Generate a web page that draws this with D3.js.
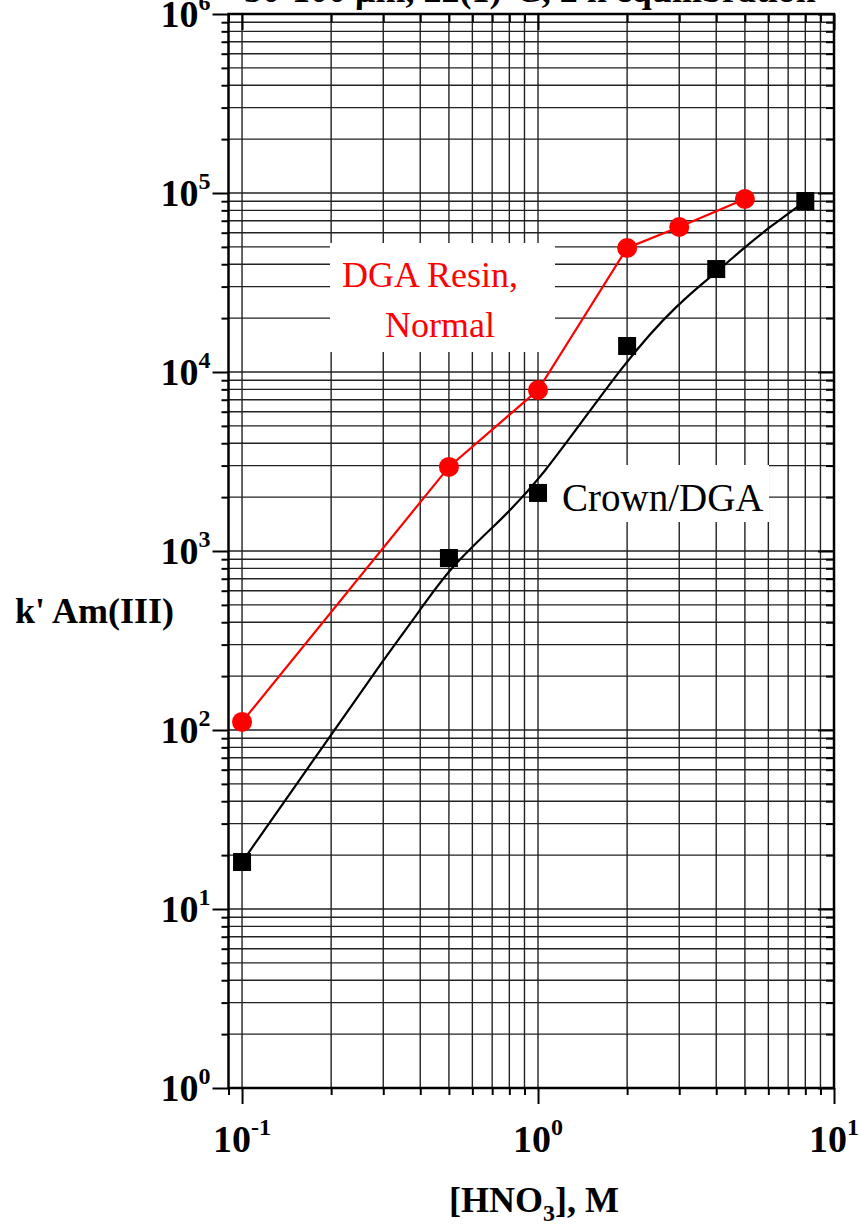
<!DOCTYPE html>
<html>
<head>
<meta charset="utf-8">
<script src="https://d3js.org/d3.v7.min.js"></script>
<style>
    body { margin: 0; background: #fff; }
    #chart-area { width: 860px; height: 1226px; }
    text { font-family: "Liberation Serif", "Times New Roman", serif; }
</style>
</head>
<body>
<div id="chart-area"></div>
<script>

// DGA Resin, Normal (measured points)
let resinHNO3 = [0.1, 0.5, 1, 2, 3, 5];
let resinK = [111, 2950, 7930, 49300, 64600, 92600];

// Crown/DGA (measured points)
let crownHNO3 = [0.1, 0.5, 1, 2, 4, 8];
let crownK = [18.3, 914, 2110, 13970, 37600, 90200];

// Crown/DGA smooth curve
let fitHNO3 = [0.1, 0.2, 0.3, 0.4, 0.5, 0.7, 1, 2, 3, 4, 5, 6, 8];
let fitK = [18.3, 94, 246, 468, 793, 1350, 2370, 12000, 24500, 36000, 49900, 63700, 90200];

// axis ticks
let xMajor = [0.1, 1, 10];
let yExponents = [0, 1, 2, 3, 4, 5, 6];

let titleText = "50-100 μm, 22(1)°C, 2 h equilibration";


class KPrimeChart {

    constructor(parentElement) {
        this.parentElement = parentElement;
        this.initVis();
    }

    initVis() {
        let vis = this;

        vis.margin = {top: 14, right: 26, bottom: 138, left: 228.5};
        vis.width = 860 - vis.margin.left - vis.margin.right;
        vis.height = 1226 - vis.margin.top - vis.margin.bottom;

        vis.svg = d3.select("#" + vis.parentElement).append("svg")
            .attr("width", vis.width + vis.margin.left + vis.margin.right)
            .attr("height", vis.height + vis.margin.top + vis.margin.bottom)
            .append("g")
            .attr("transform", "translate(" + vis.margin.left + "," + vis.margin.top + ")");

        vis.x = d3.scaleLog().domain([0.09, 10]).range([0, vis.width]);
        vis.y = d3.scaleLog().domain([1, 1e6]).range([vis.height, 0]);

        // title (mostly cut off at the top of the page)
        vis.svg.append("text")
            .attr("x", 530 - vis.margin.left)
            .attr("y", 2 - vis.margin.top)
            .attr("text-anchor", "middle")
            .style("font-size", "36px")
            .style("font-weight", "bold")
            .text(titleText);

        vis.wrangleData();
    }

    wrangleData() {
        let vis = this;

        vis.resinData = resinHNO3.map((d, i) => ({x: d, k: resinK[i]}));
        vis.crownData = crownHNO3.map((d, i) => ({x: d, k: crownK[i]}));
        vis.fitData = fitHNO3.map((d, i) => ({x: d, k: fitK[i]}));

        // gridlines at 1..9 x 10^n
        vis.xGrid = vis.x.ticks().filter(d => d >= 0.1 - 1e-9);
        vis.yGrid = vis.y.ticks();

        vis.xMinor = vis.x.ticks().filter(d => !xMajor.some(m => Math.abs(m - d) < 1e-9));
        vis.yMajor = yExponents.map(e => Math.pow(10, e));
        vis.yMinor = vis.y.ticks().filter(d => !vis.yMajor.some(m => Math.abs(m - d) < 1e-6));

        vis.updateVis();
    }

    updateVis() {
        let vis = this;

        // grid
        let grid = vis.svg.append("g").attr("class", "grid")
            .attr("stroke", "#222")
            .attr("stroke-width", 1.4);

        grid.selectAll(".vgrid")
            .data(vis.xGrid)
            .enter().append("line")
            .attr("class", "vgrid")
            .attr("x1", d => vis.x(d)).attr("x2", d => vis.x(d))
            .attr("y1", 0).attr("y2", vis.height);

        grid.selectAll(".hgrid")
            .data(vis.yGrid)
            .enter().append("line")
            .attr("class", "hgrid")
            .attr("x1", 0).attr("x2", vis.width)
            .attr("y1", d => vis.y(d)).attr("y2", d => vis.y(d));

        // white boxes behind the labels
        vis.svg.append("rect")
            .attr("x", 330 - vis.margin.left).attr("y", 243 - vis.margin.top)
            .attr("width", 225).attr("height", 109)
            .attr("fill", "#fff");
        vis.svg.append("rect")
            .attr("x", 547 - vis.margin.left).attr("y", 465 - vis.margin.top)
            .attr("width", 222).attr("height", 57)
            .attr("fill", "#fff");

        // axes: minor and major ticks drawn separately
        let addAxis = function (axis, values, size, transform) {
            let g = vis.svg.append("g")
                .attr("transform", transform)
                .call(axis.tickValues(values).tickSize(size).tickFormat(""));
            g.select(".domain").remove();
            g.selectAll(".tick line").attr("stroke", "#000").attr("stroke-width", 2);
        };

        addAxis(d3.axisLeft(vis.y), vis.yMinor, 7, "translate(0,0)");
        addAxis(d3.axisLeft(vis.y), vis.yMajor, 16, "translate(0,0)");
        addAxis(d3.axisLeft(vis.y), vis.yMinor, 8, `translate(${vis.width},0)`);
        addAxis(d3.axisLeft(vis.y), vis.yMajor, 16, `translate(${vis.width},0)`);
        addAxis(d3.axisBottom(vis.x), vis.xMinor, 7, `translate(0,${vis.height})`);
        addAxis(d3.axisBottom(vis.x), xMajor, 16, `translate(0,${vis.height})`);
        addAxis(d3.axisBottom(vis.x), vis.xMinor, 8, "translate(0,0)");
        addAxis(d3.axisBottom(vis.x), xMajor, 16, "translate(0,0)");

        // frame
        vis.svg.append("rect")
            .attr("x", 0).attr("y", 0)
            .attr("width", vis.width).attr("height", vis.height)
            .attr("fill", "none")
            .attr("stroke", "#000")
            .attr("stroke-width", 2.5);

        // y tick labels
        let yLabels = vis.svg.selectAll(".ylabel")
            .data(vis.yMajor)
            .enter().append("text")
            .attr("class", "ylabel")
            .attr("x", -18)
            .attr("y", d => vis.y(d) + 13)
            .attr("text-anchor", "end")
            .style("font-size", "38px")
            .style("font-weight", "bold");
        yLabels.append("tspan").text("10");
        yLabels.append("tspan")
            .attr("dy", -17)
            .style("font-size", "24px")
            .text(d => Math.round(Math.log10(d)));

        // x tick labels
        let xLabels = vis.svg.selectAll(".xlabel")
            .data(xMajor)
            .enter().append("text")
            .attr("class", "xlabel")
            .attr("x", d => vis.x(d))
            .attr("y", vis.height + 64)
            .attr("text-anchor", "middle")
            .style("font-size", "38px")
            .style("font-weight", "bold");
        xLabels.append("tspan").text("10");
        xLabels.append("tspan")
            .attr("dy", -17)
            .style("font-size", "24px")
            .text(d => Math.round(Math.log10(d)) < 0 ? "-" + Math.abs(Math.round(Math.log10(d))) : Math.round(Math.log10(d)));

        // axis titles
        let xTitle = vis.svg.append("text")
            .attr("x", 534 - vis.margin.left)
            .attr("y", vis.height + 124)
            .attr("text-anchor", "middle")
            .style("font-size", "36px")
            .style("font-weight", "bold");
        xTitle.append("tspan").text("[HNO");
        xTitle.append("tspan").attr("dy", 9).style("font-size", "24px").text("3");
        xTitle.append("tspan").attr("dy", -9).text("], M");

        vis.svg.append("text")
            .attr("x", 15 - vis.margin.left)
            .attr("y", 623 - vis.margin.top)
            .style("font-size", "36px")
            .style("font-weight", "bold")
            .text("k' Am(III)");

        // series labels
        vis.svg.append("text")
            .attr("x", 342 - vis.margin.left)
            .attr("y", 287 - vis.margin.top)
            .attr("fill", "#ff0000")
            .style("font-size", "36px")
            .text("DGA Resin,");
        vis.svg.append("text")
            .attr("x", 385 - vis.margin.left)
            .attr("y", 337 - vis.margin.top)
            .attr("fill", "#ff0000")
            .style("font-size", "36px")
            .text("Normal");
        vis.svg.append("text")
            .attr("x", 562 - vis.margin.left)
            .attr("y", 511 - vis.margin.top)
            .attr("fill", "#000")
            .style("font-size", "39px")
            .text("Crown/DGA");

        // lines
        let line = d3.line()
            .x(d => vis.x(d.x))
            .y(d => vis.y(d.k));

        vis.svg.append("path")
            .datum(vis.fitData)
            .attr("d", line.curve(d3.curveBasis))
            .attr("fill", "none")
            .attr("stroke", "#000")
            .attr("stroke-width", 2.2);

        vis.svg.append("path")
            .datum(vis.resinData)
            .attr("d", d3.line().x(d => vis.x(d.x)).y(d => vis.y(d.k)))
            .attr("fill", "none")
            .attr("stroke", "#ff0000")
            .attr("stroke-width", 2.2);

        // markers
        vis.svg.selectAll(".crown-pt")
            .data(vis.crownData)
            .enter().append("rect")
            .attr("class", "crown-pt")
            .attr("x", d => vis.x(d.x) - 9)
            .attr("y", d => vis.y(d.k) - 9)
            .attr("width", 18).attr("height", 18)
            .attr("fill", "#000");

        vis.svg.selectAll(".resin-pt")
            .data(vis.resinData)
            .enter().append("circle")
            .attr("class", "resin-pt")
            .attr("cx", d => vis.x(d.x))
            .attr("cy", d => vis.y(d.k))
            .attr("r", 10)
            .attr("fill", "#ff0000");
    }
}

new KPrimeChart("chart-area");

</script>
</body>
</html>
